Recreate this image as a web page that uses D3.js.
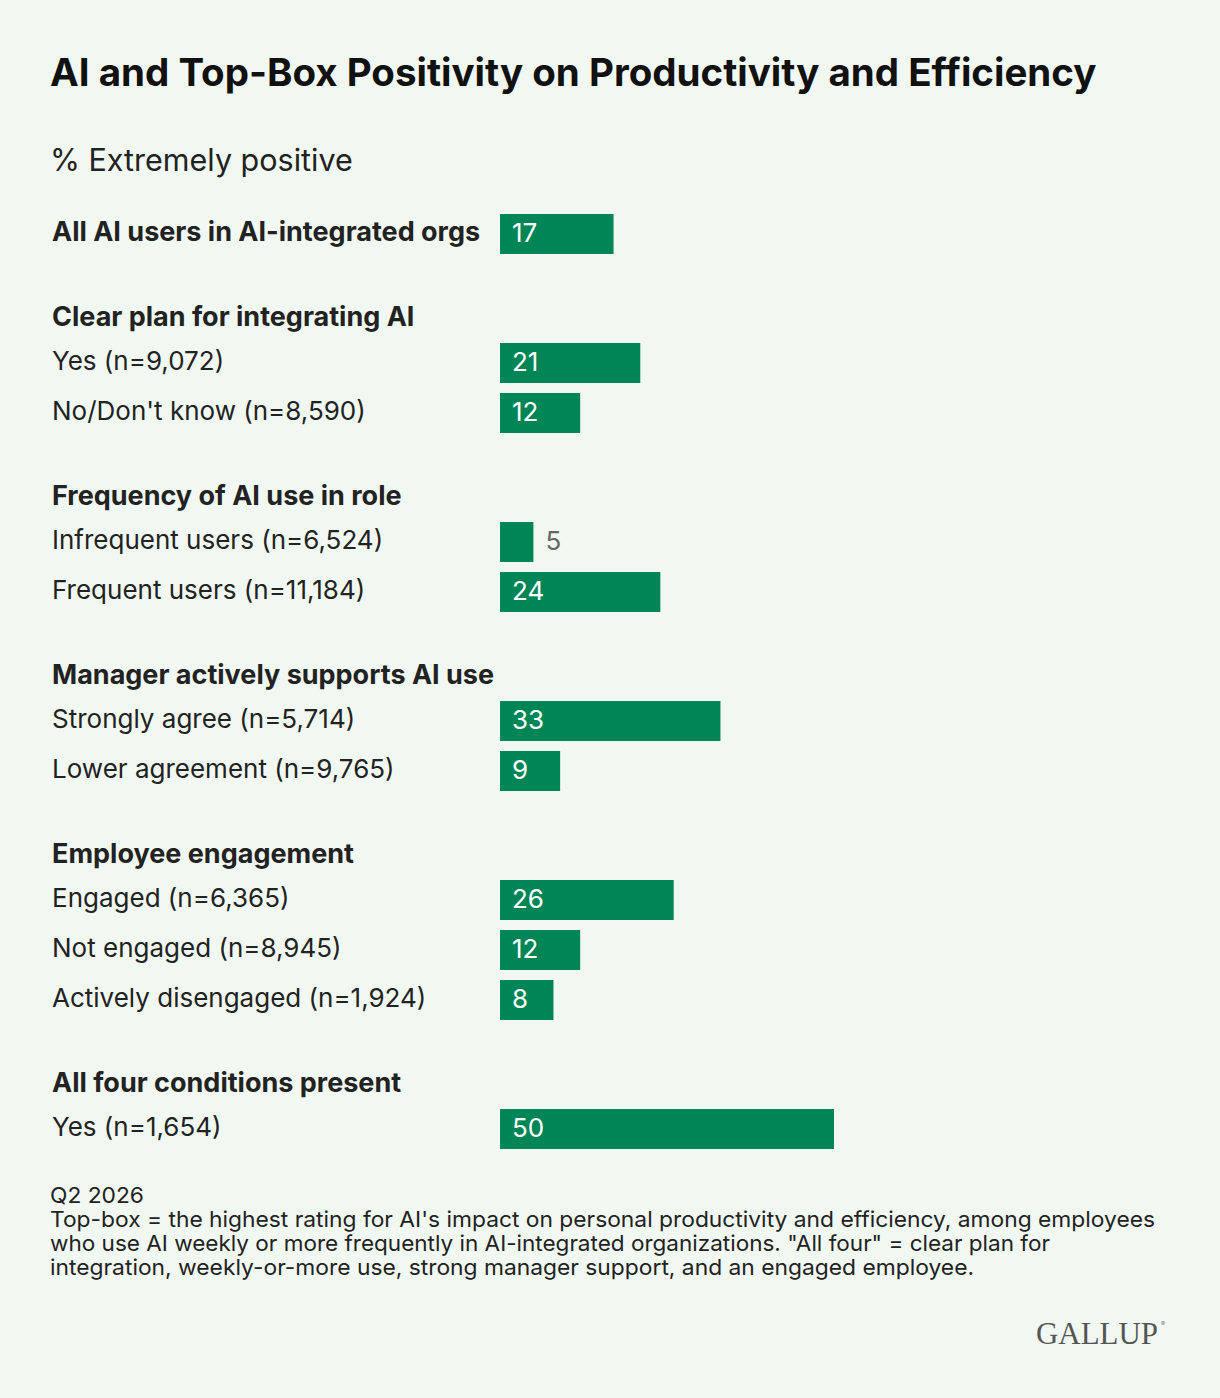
<!DOCTYPE html>
<html>
<head>
<meta charset="utf-8">
<script src="https://cdn.jsdelivr.net/npm/d3@7"></script>
<style>
  html, body { margin: 0; padding: 0; background: #f1f8f1; }
  svg { display: block; font-family: Inter, "Noto Sans", sans-serif; }
</style>
</head>
<body>
<svg id="chart" width="1220" height="1398"></svg>
<script>
// chart data
var groupTitles = [
  null,
  "Clear plan for integrating AI",
  "Frequency of AI use in role",
  "Manager actively supports AI use",
  "Employee engagement",
  "All four conditions present"
];

var rowLabels = [
  "All AI users in AI-integrated orgs",
  "Yes (n=9,072)",
  "No/Don't know (n=8,590)",
  "Infrequent users (n=6,524)",
  "Frequent users (n=11,184)",
  "Strongly agree (n=5,714)",
  "Lower agreement (n=9,765)",
  "Engaged (n=6,365)",
  "Not engaged (n=8,945)",
  "Actively disengaged (n=1,924)",
  "Yes (n=1,654)"
];

var rowGroup = [0, 1, 1, 2, 2, 3, 3, 4, 4, 4, 5];

var values = [17, 21, 12, 5, 24, 33, 9, 26, 12, 8, 50];

var footnotes = [
  "Q2 2026",
  "Top-box = the highest rating for AI's impact on personal productivity and efficiency, among employees",
  "who use AI weekly or more frequently in AI-integrated organizations. \"All four\" = clear plan for",
  "integration, weekly-or-more use, strong manager support, and an engaged employee."
];
var footnoteWidths = [94, 1105, 1000, 924];

// layout
var green = "#008556";
var ink = "#222222";
var labelX = 52;
var barX = 500;
var barH = 40;
var rowStep = 50;
var headerGap = 63;   // bar bottom -> next header centre
var headerToBar = 26; // header centre -> first bar top

var svg = d3.select("#chart");

var x = d3.scaleLinear()
  .domain([0, 50])
  .range([barX, 834]);

// work out the top of each bar, group by group
var barTops = [];
var headerYs = [];
var cursor = 214;
rowGroup.forEach(function(g, i) {
  if (i > 0 && g !== rowGroup[i - 1]) {
    var headerY = cursor - rowStep + barH + headerGap;
    headerYs[g] = headerY;
    cursor = headerY + headerToBar;
  }
  barTops.push(cursor);
  cursor += rowStep;
});

var y = d3.scaleOrdinal()
  .domain(d3.range(values.length))
  .range(barTops);

// title + subtitle
svg.append("text")
  .attr("x", 50).attr("y", 86)
  .attr("font-size", 38.5).attr("font-weight", 700)
  .attr("fill", "#111")
  .text("AI and Top-Box Positivity on Productivity and Efficiency");

svg.append("text")
  .attr("x", 50).attr("y", 171)
  .attr("font-size", 30.5)
  .attr("fill", ink)
  .text("% Extremely positive");

// group headers
svg.append("g").selectAll("text")
  .data(groupTitles.map(function(t, i) { return {t: t, g: i}; })
    .filter(function(d) { return d.t; }))
  .join("text")
  .attr("x", labelX)
  .attr("y", function(d) { return headerYs[d.g] + 8.5; })
  .attr("font-size", 27).attr("font-weight", 700)
  .attr("fill", ink)
  .text(function(d) { return d.t; });

var rows = svg.append("g").selectAll("g")
  .data(values)
  .join("g")
  .attr("transform", function(d, i) { return "translate(0," + y(i) + ")"; });

rows.append("text")
  .attr("x", labelX)
  .attr("y", barH / 2 + 7)
  .attr("font-size", function(d, i) { return groupTitles[rowGroup[i]] ? 26 : 27; })
  .attr("font-weight", function(d, i) { return groupTitles[rowGroup[i]] ? 400 : 700; })
  .attr("fill", ink)
  .text(function(d, i) { return rowLabels[i]; });

rows.append("rect")
  .attr("x", x(0))
  .attr("y", 0)
  .attr("width", function(d) { return x(d) - x(0); })
  .attr("height", barH)
  .attr("fill", green);

rows.append("text")
  .attr("x", function(d) {
    var w = x(d) - x(0);
    return w > 50 ? x(0) + 12 : x(d) + 12;
  })
  .attr("y", barH / 2 + 7.5)
  .attr("font-size", 26)
  .attr("fill", function(d) { return x(d) - x(0) > 50 ? "#ffffff" : "#666666"; })
  .text(function(d) { return d; });

// footnote (condensed)
svg.append("g").selectAll("text")
  .data(footnotes)
  .join("text")
  .attr("x", 50)
  .attr("y", function(d, i) { return 1203 + i * 24; })
  .attr("font-size", 22)
  .attr("fill", ink)
  .attr("textLength", function(d, i) { return footnoteWidths[i]; })
  .attr("lengthAdjust", "spacingAndGlyphs")
  .text(function(d) { return d; });

// logo
svg.append("text")
  .attr("x", 1036).attr("y", 1344)
  .attr("font-family", "'Liberation Serif', 'DejaVu Serif', serif")
  .attr("font-size", 31)
  .attr("fill", "#555555")
  .attr("textLength", 122)
  .attr("lengthAdjust", "spacingAndGlyphs")
  .text("GALLUP");
svg.append("text")
  .attr("x", 1161).attr("y", 1326)
  .attr("font-size", 6)
  .attr("fill", "#777")
  .text("®");
</script>
</body>
</html>
